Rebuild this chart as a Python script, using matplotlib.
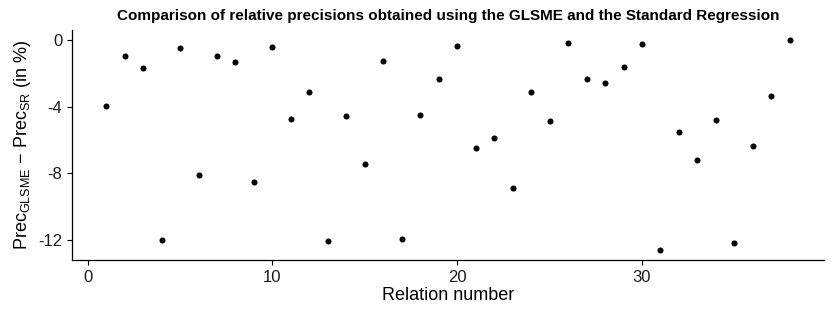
import numpy as np
import matplotlib
matplotlib.use("Agg")
import matplotlib.pyplot as plt

plt.rcParams['font.family'] = ['Liberation Sans', 'DejaVu Sans']
plt.rcParams['mathtext.default'] = 'regular'

relation = np.arange(1, 39)
diff_prec = [-3.94, -0.98, -1.70, -11.96, -0.46, -8.10, -0.98, -1.32, -8.52, -0.40,
             -4.76, -3.10, -12.06, -4.58, -7.46, -1.28, -11.94, -4.52, -2.34, -0.36,
             -6.50, -5.88, -8.90, -3.10, -4.88, -0.20, -2.36, -2.56, -1.60, -0.22,
             -12.56, -5.50, -7.20, -4.78, -12.18, -6.38, -3.34, -0.04]
yticks = [0, -4, -8, -12]
xticks = [0, 10, 20, 30]

fig = plt.figure(figsize=(8.31, 3.12), dpi=100)
ax = fig.add_axes([0.0866, 0.1667, 0.905, 0.737])
ax.scatter(relation, diff_prec, s=19, color='black', linewidths=0)

# ggplot-style 5% expansion
xr = relation.max() - relation.min()
ax.set_xlim(relation.min() - 0.05 * xr, relation.max() + 0.05 * xr)
yr = max(diff_prec) - min(diff_prec)
ax.set_ylim(min(diff_prec) - 0.05 * yr, max(diff_prec) + 0.05 * yr)

ax.set_xticks(xticks)
ax.set_yticks(yticks)
ax.set_yticklabels([str(t) for t in yticks])
ax.tick_params(labelsize=12, length=3.5, width=0.8, colors='black', labelcolor='#1a1a1a')
for s in ['top', 'right']:
    ax.spines[s].set_visible(False)
for s in ['left', 'bottom']:
    ax.spines[s].set_linewidth(0.9)

ax.set_xlabel('Relation number', fontsize=13, labelpad=2)
ax.set_ylabel(r'Prec$_{GLSME}$ $-$ Prec$_{SR}$ (in %)', fontsize=13, labelpad=4)
ax.set_title('Comparison of relative precisions obtained using the GLSME and the Standard Regression',
             fontsize=11, fontweight='bold', pad=7)

fig.savefig('out.png', dpi=100)
